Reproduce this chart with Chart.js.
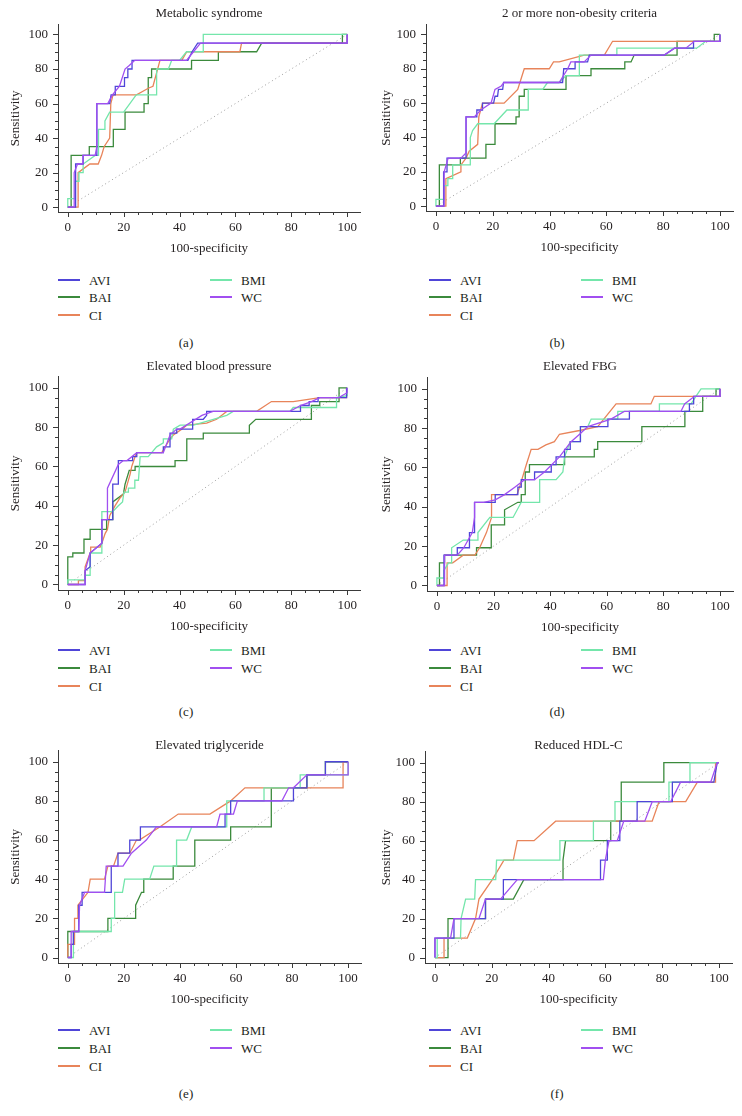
<!DOCTYPE html>
<html><head><meta charset="utf-8">
<script src="https://cdn.jsdelivr.net/npm/chart.js@4.4.1/dist/chart.umd.min.js"></script>
<style>
html,body{margin:0;padding:0;background:#fff;}
#wrap{position:relative;width:742px;height:1116px;overflow:hidden;font-family:'Liberation Serif','DejaVu Serif',serif;color:#231f20;}
canvas{position:absolute;}
.t{position:absolute;white-space:nowrap;font-size:13px;line-height:1;transform:translate(-50%,-50%);}
.l{position:absolute;white-space:nowrap;font-size:13px;line-height:1;transform:translateY(-50%);}
.sw{position:absolute;height:1.5px;width:22px;}
</style></head><body><div id="wrap"></div>
<script>
const seriesNames = ['AVI','BAI','CI','BMI','WC'];
const seriesColors = ['#4f45d8','#3b8a3c','#e8845a','#74e6ab','#a14ff0'];
const drawOrder = [2,5,4,3,1];
const tickValues = [0,5,10,15,20,25,30,35,40,45,50,55,60,65,70,75,80,85,90,95,100];
const majorTicks = [0,20,40,60,80,100];
const panelTitles = ['Metabolic syndrome','2 or more non-obesity criteria','Elevated blood pressure','Elevated FBG','Elevated triglyceride','Reduced HDL-C'];
const panelLetters = ['(a)','(b)','(c)','(d)','(e)','(f)'];
const xAxisTitle = '100-specificity';
const yAxisTitle = 'Sensitivity';

// ---- (a) Metabolic syndrome ----
const A_AVI_x = [0,2.8,2.8,5.5,5.5,10.4,10.4,15,15.5,17,17,20.3,20.3,21.5,21.5,23,23,43,44.5,46.5,100,100];
const A_AVI_y = [0,0,25,25,30,30,60,60,65,65,70,70,75,75,80,80,85,85,90,95,95,100];
const A_BAI_x = [0,1.2,1.2,7.7,7.7,16.3,16.3,20.5,20.5,27.3,27.3,28.8,28.8,30,30,44.3,44.3,53.9,53.9,67.6,69.4,98.3,98.3,100];
const A_BAI_y = [0,0,30,30,35,35,45,45,55,55,60,60,75,75,80,80,85,85,90,90,95,95,100,100];
const A_CI_x = [0,3.7,3.7,7.9,10.9,12.1,13,15,15.4,16.2,24.6,29,30.5,33,40.8,42.6,61.6,62.2,100,100];
const A_CI_y = [0,0,20,25,25,30,35,40,60,65,65,69,70,85,85,90,90,95,95,100];
const A_BMI_x = [0,0,2.5,2.5,4,4,5.5,5.5,9.8,11,11,13.3,13.3,15,20,24.5,31.8,31.8,36,37.2,40,42.5,48.5,48.5,100];
const A_BMI_y = [0,5,5,15,15,20,20,25,30,30,45,45,50,55,55,65,65,80,80,85,85,90,90,100,100];
const A_WC_x = [0,2.3,2.3,3.5,5.4,5.4,9.8,10.4,10.4,14.3,16,18.5,20.5,22,24,42.5,45,47.5,100,100];
const A_WC_y = [0,0,20,25,25,30,30,35,60,60,65,70,80,82,85,85,90,95,95,100];

// ---- (b) 2 or more non-obesity criteria ----
const B_AVI_x = [0,2.7,2.7,3.9,3.9,10.6,10.6,14.4,14.4,16.4,16.4,20.3,20.8,21.7,22,23.5,23.8,44.6,45,49,49,53.4,54,80.4,84,90.7,90.7,100,100];
const B_AVI_y = [0,0,20,20,28,28,52,52,56,56,60,60,64,64,68,68,72,72,80,80,84,84,88,88,92,92,96,96,100];
const B_BAI_x = [0,1.2,1.2,8.6,8.6,17.6,17.6,20.8,20.8,28.2,28.2,29.3,29.3,31.1,31.1,45.8,45.8,54.6,54.6,66.5,66.5,68.7,69.8,84.9,84.9,98,98,100];
const B_BAI_y = [0,0,24,24,28,28,36,36,48,48,52,52,64,64,68,68,76,76,80,80,84,84,88,88,96,96,100,100];
const B_CI_x = [0,3.5,3.5,8.8,8.8,10.6,11.7,14.7,15.1,16.4,24,28.8,31.1,39.9,41.4,43.4,52.2,59.3,62.2,100,100];
const B_CI_y = [0,0,16,20,24,28,32,36,52,60,60,68,80,80,84,84,88,88,96,96,100];
const B_BMI_x = [0,0,2.9,2.9,4.2,4.2,5.9,5.9,12.1,12.1,12.9,14.7,20.5,25,32.5,32.5,37.6,39.3,43.4,45.8,50.5,50.5,63.7,63.7,91.8,95,100,100];
const B_BMI_y = [0,4,4,12,12,16,16,24,24,40,44,48,48,56,56,68,68,72,72,76,76,88,88,92,92,96,96,100];
const B_WC_x = [0,2.9,2.9,4.3,8.8,10.6,10.6,13.5,15.8,19.4,20.8,23,24,43.4,46.4,47.5,52.2,54.6,80.4,84,88,91,100,100];
const B_WC_y = [0,0,20,28,28,31,52,52,56,60,68,70,72,72,80,84,84,88,88,92,92,96,96,100];

// ---- (c) Elevated blood pressure ----
const C_AVI_x = [0,6.2,6.2,8,8,12.2,12.2,16.1,16.1,18.1,18.1,23.2,23.2,24.7,24.7,34.2,34.2,36.6,36.6,39,39,44.7,44.7,48.5,49.7,49.7,83.3,83.3,86.4,86.4,89.6,89.6,99.8,99.8];
const C_AVI_y = [0,0,7,9,16,21,33,33,51,51,63,63,65,65,67,67,70,70,77,77,79,79,84,84,86,88,88,91,91,93,93,95,95,100];
const C_BAI_x = [0,0,1.8,1.8,5.8,5.8,8,8,13.9,13.9,16.1,16.1,19.9,20.5,22,24.1,24.1,38.4,38.4,42.6,42.6,48.5,48.5,65,65,67.3,87.2,87.2,90.2,90.2,97.1,97.1,100];
const C_BAI_y = [0,14,14,16,16,23,23,28,28,33,33,42,46,51,58,58,60,60,63,63,74,74,77,77,81,84,84,91,91,93,93,100,100];
const C_CI_x = [0,3.8,3.8,6.2,6.2,8,8.2,11.6,12.2,13.4,14.2,15,16.9,18.7,20.5,22.3,22.9,24.1,24.7,33.6,36.6,37.8,40.8,42.6,49.7,53.3,56.9,67.6,72.9,80.7,90.2,99.8,99.8];
const C_CI_y = [0,0,2,2,9,16,19,19,21,26,28,35,40,44,47,56,60,65,67,67,74,76,79,81,82,84,88,88,93,93,95,95,100];
const C_BMI_x = [0,0,6.2,6.2,8,8,12.2,12.2,16.1,18.1,19.6,20.1,21.7,21.7,24,24,25.3,25.9,28.8,31.8,34.2,34.2,37.2,37.8,40.2,45,52.1,56.9,59.2,79.5,80.7,96.2,96.2,100,100];
const C_BMI_y = [0,2.3,2.3,4.7,4.7,16,16,37,37,40,42,47,47,49,49,53,53,65,65,70,72,74,74,79,81,81,84,86,88,88,90,90,95,96,100];
const C_WC_x = [0,6.2,6.2,8,12.2,12.2,14.2,14.2,18.1,19.9,21.2,24.7,34.2,36.6,39,40.2,48,52,79.5,83.3,87.2,90.2,97,100,100];
const C_WC_y = [0,0,7,16,21,33,33,49,61,63,63,67,67,76,79,79,86,88,88,91,93,95,95,97.5,100];

// ---- (d) Elevated FBG ----
const D_AVI_x = [0,2.5,2.5,7.2,7.2,11.5,11.5,13.3,13.3,20.6,20.6,28.6,28.6,29.8,29.8,34.5,34.5,40.4,40.4,42.1,42.1,45.1,45.1,47.1,47.1,50.7,50.7,60.4,60.4,68,68,89.2,89.2,90.7,90.7,100,100];
const D_AVI_y = [0,0,15.4,15.4,19.2,19.2,26.9,26.9,42.3,42.3,46.2,46.2,50,50,53.8,53.8,57.7,57.7,61.5,61.5,65.4,65.4,69.2,69.2,73.1,73.1,80.8,80.8,84.6,84.6,88.5,88.5,92.3,92.3,96.2,96.2,100];
const D_BAI_x = [0,0.9,0.9,2.7,2.7,14,14,19.2,19.2,23.9,23.9,28.6,29.8,29.8,31.2,31.2,32.7,32.7,45.1,45.1,55.6,55.6,56.8,56.8,72.4,72.4,87.6,87.6,93.9,93.9,98.6,98.6,100];
const D_BAI_y = [0,0,11.5,11.5,15.4,15.4,19.2,19.2,30.8,30.8,38.5,42.3,42.3,46.2,46.2,57.7,57.7,61.5,61.5,65.4,65.4,69.2,69.2,73.1,73.1,80.8,80.8,88.5,88.5,96.2,96.2,100,100];
const D_CI_x = [0,3.6,3.6,5.6,9.3,13.4,15.1,17.5,19.3,19.3,28.3,29.2,31.6,33.3,35.7,38.5,41.5,43.3,50.4,56.8,63.3,75.6,76.8,100,100];
const D_CI_y = [0,0,11.5,11.5,15.4,15.4,19.2,26.9,34.6,46.2,46.2,50,61.5,69.2,69.2,71.5,73.1,76.9,78.8,80.8,92.3,92.3,96.2,96.2,100];
const D_BMI_x = [0,0,2.5,2.5,4.1,5.2,5.2,9.3,14.5,14.5,18.7,26.9,29.8,36.3,36.3,42.1,44.5,45.1,47.1,50.7,50.7,53.3,54.5,63.9,63.9,78.6,78.6,89.8,91.5,93.3,100];
const D_BMI_y = [0,3.8,3.8,7.7,11.5,11.5,19.2,23.1,23.1,26.9,34.6,34.6,42.3,42.3,53.8,53.8,57.7,65.4,73.1,73.1,80.8,80.8,84.6,84.6,88.5,88.5,92.3,92.3,96.2,100,100];
const D_WC_x = [0,2.7,2.7,7.2,9.5,12.5,13.3,13.3,16.5,20.6,23.9,27.5,31,34.5,38,43.3,47.4,50.4,53.3,61.5,66.2,86.2,87.5,91,100,100];
const D_WC_y = [0,0,15.4,15.4,19.2,26.9,34.6,42.3,42.3,43.5,46.2,50,53.8,53.8,57.7,65.4,73.1,76.9,80.8,84.6,88.5,88.5,92.3,96.2,96.2,100];

// ---- (e) Elevated triglyceride ----
const E_AVI_x = [0,1.2,1.2,2,2,3.9,3.9,5.1,5.1,15.5,15.5,17.9,17.9,22.1,22.1,25.9,25.9,56.1,56.1,58.1,58.1,80.5,80.5,85.3,85.3,91.9,91.9,100];
const E_AVI_y = [0,0,6.7,6.7,13.3,13.3,26.7,26.7,33.3,33.3,46.7,46.7,53.3,53.3,60,60,66.7,66.7,73.3,73.3,80,80,86.7,86.7,93.3,93.3,100,100];
const E_BAI_x = [0,0,14.3,14.3,24.2,24.2,26.3,27.1,27.1,37.6,37.6,45.3,45.3,58.1,58.1,72.6,72.6,85.3,85.3,91.9,91.9,100];
const E_BAI_y = [0,13.3,13.3,20,20,26.7,33.3,33.3,40,40,46.7,46.7,60,60,66.7,66.7,86.7,86.7,93.3,93.3,100,100];
const E_CI_x = [0,0,2.4,2.4,3.6,3.6,7.2,8,13.1,14.3,16.3,17.9,22.1,24.5,25.5,32.8,39.4,50.7,58.1,63.2,98.2,98.2,100];
const E_CI_y = [0,6.7,6.7,20,20,26.7,33.3,40,40,46.7,46.7,53.3,53.3,60,60,66.7,73.3,73.3,80,86.7,86.7,100,100];
const E_BMI_x = [0,2,2,15.5,15.5,16.7,16.7,19.5,20.3,29.2,30.7,38.8,38.8,42.4,44.2,56.7,56.7,70,70,82.9,82.9,100,100];
const E_BMI_y = [0,0,13.3,13.3,20,20,33.3,33.3,40,40,46.7,46.7,60,60,66.7,66.7,80,80,86.7,86.7,93.3,93.3,100];
const E_WC_x = [0,1.2,1.2,3.9,4.2,6,13.1,13.7,19.7,22.7,28,31.6,53.1,54.3,59.1,60.5,76.4,78.8,80.5,85.3,100,100];
const E_WC_y = [0,0,13.3,13.3,26.7,33.3,33.3,46.7,46.7,53.3,60,66.7,66.7,73.3,73.3,80,80,86.7,86.7,93.3,93.3,100];

// ---- (f) Reduced HDL-C ----
const F_AVI_x = [0,0,6.7,6.7,17.8,17.8,24.1,24.1,58.3,58.3,60.7,60.7,65.1,65.1,71.2,71.2,83.6,83.6,98.2,99.4,100];
const F_AVI_y = [0,10,10,20,20,30,30,40,40,50,50,60,60,70,70,80,80,90,90,100,100];
const F_BAI_x = [0,4.6,4.6,17.8,17.8,27.6,31.3,45.1,45.1,46,61.9,61.9,65.6,65.6,80.6,80.6,100];
const F_BAI_y = [0,0,20,20,30,30,40,40,50,60,60,70,70,90,90,100,100];
const F_CI_x = [0,3.2,3.2,11.4,14.3,15.5,20.2,24.3,27.6,29,34.9,42.5,76.5,78.9,88.3,92.4,98.8,98.8,100];
const F_CI_y = [0,0,10,10,20,30,40,50,50,60,60,70,70,80,80,90,90,100,100];
const F_BMI_x = [0,0.8,0.8,9,9.2,10.8,14,14.3,21.4,21.7,43.7,44,55.8,55.8,63.4,63.4,82.4,82.4,89.8,89.8,100];
const F_BMI_y = [0,0,10,10,20,30,30,40,40,50,50,60,60,70,70,80,80,90,90,100,100];
const F_WC_x = [0,0,5.5,6.7,15.5,17.8,23.1,29,59.3,60,61.3,64.2,66.5,73.9,76.5,83,86.5,97.1,99.4,100];
const F_WC_y = [0,10,10,20,20,30,30,40,40,50,60,60,70,70,80,80,90,90,100,100];

const panelData = [
  {AVI:[A_AVI_x,A_AVI_y],BAI:[A_BAI_x,A_BAI_y],CI:[A_CI_x,A_CI_y],BMI:[A_BMI_x,A_BMI_y],WC:[A_WC_x,A_WC_y]},
  {AVI:[B_AVI_x,B_AVI_y],BAI:[B_BAI_x,B_BAI_y],CI:[B_CI_x,B_CI_y],BMI:[B_BMI_x,B_BMI_y],WC:[B_WC_x,B_WC_y]},
  {AVI:[C_AVI_x,C_AVI_y],BAI:[C_BAI_x,C_BAI_y],CI:[C_CI_x,C_CI_y],BMI:[C_BMI_x,C_BMI_y],WC:[C_WC_x,C_WC_y]},
  {AVI:[D_AVI_x,D_AVI_y],BAI:[D_BAI_x,D_BAI_y],CI:[D_CI_x,D_CI_y],BMI:[D_BMI_x,D_BMI_y],WC:[D_WC_x,D_WC_y]},
  {AVI:[E_AVI_x,E_AVI_y],BAI:[E_BAI_x,E_BAI_y],CI:[E_CI_x,E_CI_y],BMI:[E_BMI_x,E_BMI_y],WC:[E_WC_x,E_WC_y]},
  {AVI:[F_AVI_x,F_AVI_y],BAI:[F_BAI_x,F_BAI_y],CI:[F_CI_x,F_CI_y],BMI:[F_BMI_x,F_BMI_y],WC:[F_WC_x,F_WC_y]}
];

// ---- layout (positions only) ----
const layoutBoxes = [
  {left:0,   L:58,  R:360, T:20,  B:212, titleY:12,  legY:[280,297,315],   capY:342},
  {left:371, L:426, R:733, T:20,  B:211, titleY:12,  legY:[280,297,315],   capY:342},
  {left:0,   L:58,  R:360, T:372, B:590, titleY:365, legY:[650,668,686],   capY:711},
  {left:371, L:427, R:733, T:373, B:591, titleY:365, legY:[650,668,686],   capY:711},
  {left:0,   L:58,  R:361, T:746, B:963, titleY:744, legY:[1030,1048,1066], capY:1093},
  {left:371, L:425, R:732, T:747, B:963, titleY:744, legY:[1030,1048,1066], capY:1093}
];
const X_MIN = -3.5, X_MAX = 104.6, Y_MIN = -2.8, Y_MAX = 105.6;
const FONT = "'Liberation Serif', 'DejaVu Serif', serif";
const AXIS = '#3a3a3a', TXT = '#231f20';

const tickPlugin = {
  id: 'axisTicks',
  afterDraw(chart) {
    const ctx = chart.ctx, xs = chart.scales.x, ys = chart.scales.y;
    ctx.save();
    ctx.strokeStyle = AXIS; ctx.lineWidth = 1;
    ctx.beginPath();
    tickValues.forEach(v => {
      const len = majorTicks.includes(v) ? 5 : 3;
      const px = Math.round(xs.getPixelForValue(v)) + 0.5;
      ctx.moveTo(px, xs.top); ctx.lineTo(px, xs.top + len);
      const py = Math.round(ys.getPixelForValue(v)) + 0.5;
      ctx.moveTo(ys.right, py); ctx.lineTo(ys.right - len, py);
    });
    ctx.stroke();
    ctx.restore();
  }
};

const wrap = document.getElementById('wrap');
function addText(cls, txt, x, y) {
  const d = document.createElement('div');
  d.className = cls; d.textContent = txt;
  d.style.left = x + 'px'; d.style.top = y + 'px';
  wrap.appendChild(d);
}

layoutBoxes.forEach((p, i) => {
  const cv = document.createElement('canvas');
  const top = p.T - 8;
  const h = p.B - top + 46;
  cv.width = 371; cv.height = h;
  cv.style.left = p.left + 'px'; cv.style.top = top + 'px';
  cv.style.width = '371px'; cv.style.height = h + 'px';
  wrap.appendChild(cv);

  const datasets = [{
    data: [{x:0,y:0},{x:100,y:100}], borderColor:'#9c9c9c', borderWidth:1,
    borderDash:[1,3], pointRadius:0, order:10
  }];
  seriesNames.forEach((n, j) => {
    const [xs, ys] = panelData[i][n];
    datasets.push({
      label: n, data: xs.map((x, k) => ({x, y: ys[k]})),
      borderColor: seriesColors[j], borderWidth: 1.3, pointRadius: 0,
      tension: 0, fill: false, order: drawOrder[j]
    });
  });

  new Chart(cv, {
    type: 'line',
    data: { datasets },
    options: {
      responsive: false, animation: false, devicePixelRatio: 1, events: [],
      layout: { padding: { left: 0, top: 8, right: p.left + 371 - p.R, bottom: 0 } },
      plugins: { legend: { display: false }, tooltip: { enabled: false }, title: { display: false } },
      scales: {
        x: {
          type: 'linear', bounds: 'data', min: X_MIN, max: X_MAX,
          afterBuildTicks: a => { a.ticks = tickValues.map(v => ({value: v})); },
          afterFit: s => { s.height = 46; },
          grid: { display: true, drawOnChartArea: false, drawTicks: true, tickLength: 5, tickColor: 'rgba(0,0,0,0)' },
          border: { display: true, color: AXIS, width: 1 },
          ticks: { autoSkip: false, maxRotation: 0, padding: 3, color: TXT, font: { family: FONT, size: 13 },
                   callback: v => (v % 20 === 0 ? String(v) : '') },
          title: { display: true, text: xAxisTitle, color: TXT, font: { family: FONT, size: 13 }, padding: { top: 0, bottom: 2 } }
        },
        y: {
          type: 'linear', bounds: 'data', min: Y_MIN, max: Y_MAX,
          afterBuildTicks: a => { a.ticks = tickValues.map(v => ({value: v})); },
          afterFit: s => { s.width = p.L - p.left; },
          grid: { display: true, drawOnChartArea: false, drawTicks: true, tickLength: 5, tickColor: 'rgba(0,0,0,0)' },
          border: { display: true, color: AXIS, width: 1 },
          ticks: { autoSkip: false, padding: 5, color: TXT, font: { family: FONT, size: 13 },
                   callback: v => (v % 20 === 0 ? String(v) : '') },
          title: { display: true, text: yAxisTitle, color: TXT, font: { family: FONT, size: 13 }, padding: { top: 8, bottom: 0 } }
        }
      }
    },
    plugins: [tickPlugin]
  });

  addText('t', panelTitles[i], (p.L + p.R) / 2, p.titleY);
  addText('t', panelLetters[i], p.left + 186, p.capY);
  const cols = [[0,1,2],[3,4]];
  cols.forEach((rows, c) => {
    rows.forEach((si, r) => {
      const lx = p.left + (c === 0 ? 58 : 210);
      const y = p.legY[r];
      const sw = document.createElement('div');
      sw.className = 'sw';
      sw.style.left = lx + 'px'; sw.style.top = (y - 1) + 'px';
      sw.style.background = seriesColors[si];
      wrap.appendChild(sw);
      addText('l', seriesNames[si], lx + 31, y);
    });
  });
});
</script></body></html>
